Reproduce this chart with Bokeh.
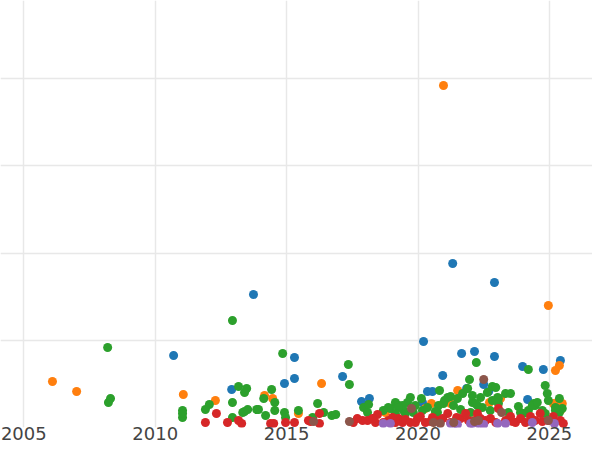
from bokeh.plotting import figure
from bokeh.models import Range1d, FixedTicker
from bokeh.embed import file_html
from bokeh.resources import INLINE

# ---- data (year, value) per series ----
blue_x = [2010.70, 2012.91, 2013.74, 2014.92, 2015.30, 2015.30, 2017.13, 2017.85, 2018.15,
          2020.21, 2021.32, 2022.91, 2021.66, 2022.15, 2022.91, 2020.94, 2020.36, 2020.55,
          2021.85, 2022.50, 2022.69, 2023.98, 2024.77, 2025.42, 2024.17, 2020.17]
blue_y = [8.34, 4.46, 15.31, 5.14, 8.11, 5.71, 5.94, 3.09, 3.43,
          9.94, 18.86, 16.69, 8.57, 8.80, 8.23, 6.06, 4.23, 4.23,
          4.57, 5.03, 4.23, 7.09, 6.74, 7.77, 3.31, 2.97]

orange_x = [2006.09, 2007.01, 2011.07, 2012.29, 2014.16, 2014.47, 2016.33, 2020.97, 2024.96,
            2025.23, 2025.38, 2021.51, 2020.51, 2022.72, 2025.15, 2025.49, 2018.76, 2015.45,
            2023.14, 2025.42, 2021.24, 2020.28, 2025.23]
orange_y = [5.37, 4.23, 3.89, 3.20, 3.77, 3.43, 5.14, 39.20, 14.06,
            6.63, 7.20, 4.34, 2.86, 2.97, 2.86, 2.86, 1.83, 1.71,
            3.43, 2.06, 2.86, 2.29, 2.86]

green_x = [2008.19, 2008.22, 2008.30, 2011.04, 2011.04, 2011.04, 2012.94, 2013.17, 2013.48,
           2013.40, 2012.94, 2012.06, 2011.91, 2012.94, 2013.40, 2013.86, 2013.33, 2013.52,
           2013.93, 2014.13, 2014.43, 2014.55, 2014.20, 2014.55, 2014.92, 2014.96, 2014.85,
           2015.45, 2016.18, 2016.41, 2016.72, 2016.87, 2015.99, 2017.35, 2017.39, 2017.93,
           2018.12, 2018.08, 2018.95, 2019.14, 2019.26, 2019.45, 2022.22, 2021.96, 2020.82,
           2021.24, 2021.70, 2021.89, 2022.38, 2022.64, 2022.83, 2023.03, 2019.71, 2020.13,
           2019.60, 2019.41, 2020.97, 2021.13, 2021.35, 2022.07, 2022.45, 2020.17, 2020.74,
           2021.62, 2022.00, 2020.36, 2022.26, 2023.33, 2023.52, 2024.41, 2023.82, 2024.84,
           2024.92, 2024.96, 2025.38, 2024.20, 2022.96, 2024.20, 2023.44, 2025.23, 2025.38,
           2024.84, 2025.49, 2023.06, 2024.46, 2023.90, 2018.87,
           2019.26, 2019.90, 2019.82, 2021.01, 2020.78, 2020.66, 2019.52, 2019.14, 2018.68,
           2021.50, 2022.07, 2022.83, 2023.06, 2022.18, 2024.35, 2024.54, 2024.73, 2025.23,
           2022.75, 2024.01]
green_y = [9.26, 2.97, 3.43, 2.06, 1.26, 1.71, 12.34, 4.80, 4.57,
           4.11, 2.97, 2.74, 2.17, 1.26, 1.94, 2.17, 1.83, 2.17,
           2.17, 3.43, 4.46, 2.97, 1.49, 2.06, 1.83, 1.26, 8.57,
           2.06, 2.86, 1.83, 1.49, 1.60, 1.26, 7.31, 5.03, 2.40,
           2.74, 1.83, 2.29, 2.97, 2.63, 2.06, 7.54, 5.60, 4.34,
           3.66, 4.00, 4.57, 3.54, 4.11, 4.80, 3.54, 3.54, 3.43,
           2.97, 2.63, 2.86, 3.54, 2.63, 2.97, 2.40, 2.06, 1.83,
           2.17, 1.83, 2.40, 2.63, 4.00, 4.00, 2.86, 2.51, 4.91,
           4.00, 3.20, 3.43, 6.74, 4.69, 2.06, 1.83, 2.06, 1.83,
           1.71, 2.29, 2.86, 2.63, 1.83, 2.40,
           2.40, 2.63, 1.83, 3.20, 2.63, 1.94, 1.71, 1.71, 2.06,
           3.43, 3.77, 3.20, 3.43, 2.86, 2.63, 2.97, 2.06, 2.40,
           2.06, 1.71]

red_x = [2011.91, 2012.33, 2012.75, 2013.17, 2013.29, 2014.39, 2014.51, 2014.96, 2015.30,
         2015.83, 2015.91, 2016.25, 2016.25, 2017.54, 2018.08, 2018.46, 2018.38, 2018.87,
         2019.26, 2019.41, 2018.68, 2019.14, 2019.52, 2019.71, 2019.90, 2019.98, 2020.28,
         2020.74, 2021.13, 2021.24, 2021.47, 2021.62, 2021.92, 2022.22, 2022.26, 2022.57,
         2022.76, 2022.96, 2023.06, 2023.33, 2023.52, 2023.71, 2023.90, 2024.09, 2024.28,
         2024.46, 2024.65, 2024.96, 2025.15, 2025.42, 2025.53, 2020.55, 2020.94, 2021.81,
         2022.38, 2020.09, 2019.03, 2018.27, 2017.89, 2020.47, 2017.69, 2022.15, 2023.60,
         2024.73]
red_y = [0.69, 1.71, 0.69, 0.91, 0.57, 0.57, 0.57, 0.69, 0.69,
         0.91, 0.80, 1.71, 0.57, 0.69, 0.91, 1.60, 0.69, 0.91,
         1.14, 0.69, 0.69, 0.69, 1.03, 0.69, 0.69, 1.14, 0.69,
         0.91, 1.71, 0.69, 1.26, 1.14, 0.91, 0.69, 1.71, 0.91,
         1.14, 0.69, 2.29, 0.91, 1.37, 0.69, 1.14, 0.69, 1.37,
         0.91, 1.71, 0.91, 1.37, 0.91, 0.57, 1.26, 1.14, 1.71,
         1.14, 1.37, 1.26, 1.14, 0.91, 0.80, 1.14, 0.91, 0.80,
         0.80]

purple_x = [2018.68, 2018.95, 2021.24, 2021.39, 2022.07, 2022.30, 2023.03, 2023.33, 2024.35,
            2025.19, 2022.00, 2021.50, 2022.50]
purple_y = [0.57, 0.57, 0.57, 0.57, 0.57, 0.57, 0.57, 0.57, 0.69,
            0.57, 0.57, 0.46, 0.46]

brown_x = [2016.03, 2017.39, 2019.75, 2022.50, 2023.18, 2020.59, 2021.36, 2022.15, 2022.30, 2024.96,
           2020.85]
brown_y = [0.80, 0.80, 2.29, 5.60, 1.83, 0.69, 0.69, 0.80, 0.91, 0.91,
           0.57]

x_ticks = [2005, 2010, 2015, 2020, 2025]
x_tick_labels = ["2005", "2010", "2015", "2020", "2025"]
y_grid = [10, 20, 30, 40]

series = [
    (blue_x, blue_y, "#1f77b4"),
    (orange_x, orange_y, "#ff7f0e"),
    (green_x, green_y, "#2ca02c"),
    (red_x, red_y, "#d62728"),
    (purple_x, purple_y, "#9467bd"),
    (brown_x, brown_y, "#8c564b"),
]

p = figure(width=592, height=442, output_backend="svg", toolbar_location=None,
           x_range=Range1d(2004.113, 2026.640), y_range=Range1d(0.114, 48.914),
           min_border=0, min_border_left=0, min_border_right=0,
           min_border_top=0, min_border_bottom=0)
p.outline_line_color = None
p.background_fill_color = "white"
p.border_fill_color = "white"

p.yaxis.visible = False
p.ygrid.ticker = FixedTicker(ticks=y_grid)
p.xaxis.ticker = FixedTicker(ticks=x_ticks)
p.xaxis.major_label_overrides = {t: l for t, l in zip(x_ticks, x_tick_labels)}
p.xaxis.axis_line_color = None
p.xaxis.major_tick_line_color = None
p.xaxis.minor_tick_line_color = None
p.xaxis.major_tick_out = 0
p.xaxis.major_tick_in = 0
p.xaxis.major_label_standoff = -1
p.xaxis.major_label_text_font = "DejaVu Sans"
p.xaxis.major_label_text_font_size = "18px"
p.xaxis.major_label_text_color = "#444444"

for g in (p.xgrid, p.ygrid):
    g.grid_line_color = "#e8e8e8"
    g.grid_line_width = 1.5

for xs, ys, c in series:
    p.scatter(xs, ys, size=9, fill_color=c, line_color=None)

open("out.html", "w").write(file_html(p, INLINE))
